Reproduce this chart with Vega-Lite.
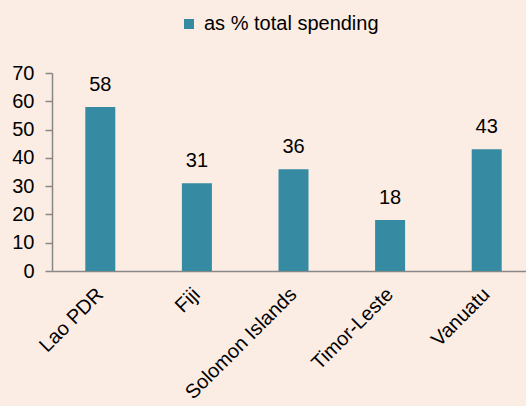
{
  "$schema": "https://vega.github.io/schema/vega-lite/v6.json",
  "autosize": "none",
  "width": 483,
  "height": 198,
  "padding": {"left": 52, "top": 73, "right": 0, "bottom": 135},
  "background": "#FCEDE4",
  "config": {
    "view": {"stroke": null},
    "font": "Liberation Sans",
    "axis": {"domainColor": "#888888", "tickColor": "#888888", "labelColor": "#000000", "labelFont": "Liberation Sans", "labelFontSize": 20, "grid": false, "title": null}
  },
  "data": {
    "values": [
      {"country": "Lao PDR", "value": 58, "series": "as % total spending"},
      {"country": "Fiji", "value": 31, "series": "as % total spending"},
      {"country": "Solomon Islands", "value": 36, "series": "as % total spending"},
      {"country": "Timor-Leste", "value": 18, "series": "as % total spending"},
      {"country": "Vanuatu", "value": 43, "series": "as % total spending"}
    ]
  },
  "encoding": {
    "x": {"field": "country", "type": "nominal", "sort": null,
      "scale": {"paddingInner": 0.69, "paddingOuter": 0.345},
      "axis": {"labelAngle": -45, "labelAlign": "right", "labelBaseline": "middle", "ticks": false, "labelPadding": 20, "domainWidth": 1.5}},
    "y": {"field": "value", "type": "quantitative",
      "scale": {"domain": [0, 70], "nice": false},
      "axis": {"values": [0, 10, 20, 30, 40, 50, 60, 70], "tickSize": 7, "labelPadding": 11, "domainWidth": 1.5, "tickWidth": 1.5}}
  },
  "layer": [
    {
      "mark": {"type": "bar", "size": 30},
      "encoding": {
        "color": {"field": "series", "type": "nominal",
          "scale": {"range": ["#368BA3"]},
          "legend": {"title": null, "orient": "none", "legendX": 127, "legendY": -59, "symbolType": "square", "symbolSize": 100, "labelOffset": 5, "labelLimit": 400, "labelFontSize": 20, "labelFont": "Liberation Sans", "labelColor": "#000000", "symbolStrokeWidth": 0}
        }
      }
    },
    {
      "mark": {"type": "text", "baseline": "alphabetic", "dy": -16, "fontSize": 20, "font": "Liberation Sans", "color": "#000000"},
      "encoding": {"text": {"field": "value", "type": "quantitative"}}
    }
  ]
}
